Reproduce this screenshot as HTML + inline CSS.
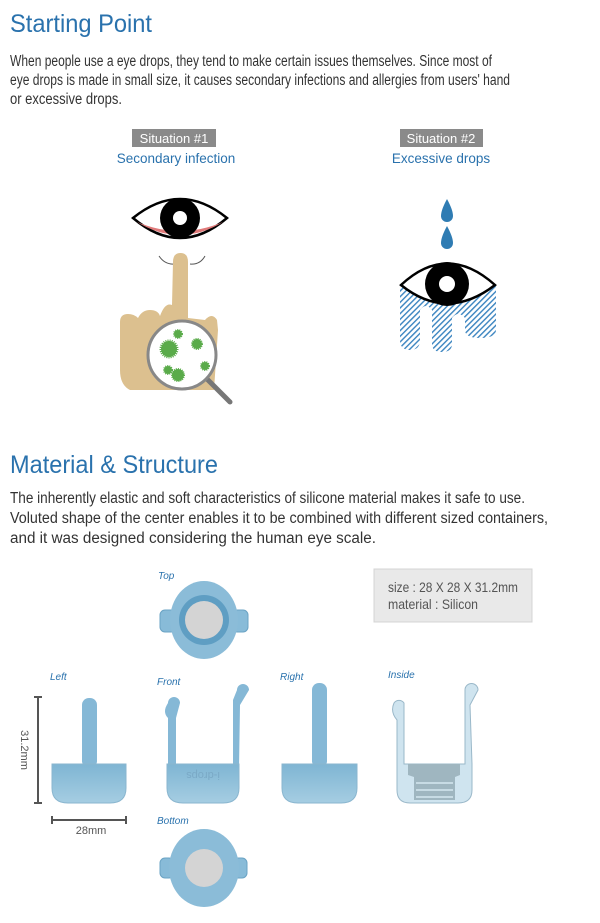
<!DOCTYPE html>
<html><head><meta charset="utf-8"><style>
html,body{margin:0;padding:0;background:#fff;width:600px;height:923px;overflow:hidden}
svg{display:block}
text{font-family:"Liberation Sans",sans-serif}
</style></head><body>
<svg width="600" height="923" viewBox="0 0 600 923" xmlns="http://www.w3.org/2000/svg">
<defs>
<pattern id="hatch" width="4" height="4" patternUnits="userSpaceOnUse" patternTransform="rotate(45)">
<rect width="4" height="4" fill="#fff"/><rect width="1.4" height="4" fill="#3a84c0"/>
</pattern>
<linearGradient id="bl" x1="0" y1="0" x2="0" y2="1"><stop offset="0" stop-color="#7fb5d3"/><stop offset="1" stop-color="#a5cde2"/></linearGradient>
</defs>
<!-- Section 1 -->
<text x="10" y="32" font-size="25" fill="#2a72ad" textLength="142" lengthAdjust="spacingAndGlyphs">Starting Point</text>
<g font-size="15.5" fill="#333">
<text x="10" y="66" textLength="482" lengthAdjust="spacingAndGlyphs">When people use a eye drops, they tend to make certain issues themselves. Since most of</text>
<text x="10" y="85" textLength="500" lengthAdjust="spacingAndGlyphs">eye drops is made in small size, it causes secondary infections and allergies from users' hand</text>
<text x="10" y="104" textLength="112" lengthAdjust="spacingAndGlyphs">or excessive drops.</text>
</g>
<rect x="132" y="129" width="84" height="18" fill="#8a8a8a"/>
<text x="174" y="143" font-size="13" fill="#fff" text-anchor="middle">Situation #1</text>
<text x="176" y="163" font-size="13.5" fill="#2a72ad" text-anchor="middle">Secondary infection</text>
<rect x="400" y="129" width="83" height="18" fill="#8a8a8a"/>
<text x="441" y="143" font-size="13" fill="#fff" text-anchor="middle">Situation #2</text>
<text x="441" y="163" font-size="13.5" fill="#2a72ad" text-anchor="middle">Excessive drops</text>

<!-- eye 1 -->
<path d="M133 218 Q180 180 227 218 Q180 258 133 218Z" fill="#fff" stroke="#000" stroke-width="2.5"/>
<path d="M137 222 Q180 248 223 222 Q180 240 137 222Z" fill="#e07a7a"/>
<circle cx="180" cy="218" r="20" fill="#000"/><circle cx="180" cy="218" r="7" fill="#fff"/>
<path d="M159 256 Q165 265 175 264 M190 264 Q200 265 205 256" stroke="#555" fill="none" stroke-width="1"/>
<!-- hand -->
<path d="M173 262 Q173 253 180.5 253 Q188 253 188 262 L188 318 L205 320 Q212 312 217 320 L218 330 L214 390 L130 390 Q120 385 120 370 L120 322 Q120 314 128 314 Q134 314 138 318 Q142 310 150 310 Q158 310 160 316 Q165 302 172 305Z" fill="#dcc08f"/>
<line x1="200" y1="372" x2="230" y2="402" stroke="#777" stroke-width="5" stroke-linecap="round"/>
<circle cx="182" cy="355" r="34" fill="#fff" stroke="#888" stroke-width="3"/>
<g fill="#5aab4a" stroke="#5aab4a" stroke-dasharray="1 1">
<circle cx="169" cy="349" r="8" stroke-width="3"/>
<circle cx="178" cy="334" r="4" stroke-width="2"/>
<circle cx="197" cy="344" r="5" stroke-width="2"/>
<circle cx="205" cy="366" r="4" stroke-width="2"/>
<circle cx="168" cy="370" r="4" stroke-width="2"/>
<circle cx="178" cy="375" r="6" stroke-width="2"/>
</g>
<!-- drops -->
<path d="M447 199 Q441 210 441 216 A6 6 0 0 0 453 216 Q453 210 447 199Z" fill="#2f7cb3"/>
<path d="M447 226 Q441 237 441 243 A6 6 0 0 0 453 243 Q453 237 447 226Z" fill="#2f7cb3"/>
<!-- eye 2 -->
<path d="M400 284 L400 340 Q400 350 410 350 Q420 350 420 340 L420 310 Q426 302 432 310 L432 344 Q432 352 442 352 Q452 352 452 344 L452 318 Q458 310 465 318 L465 330 Q465 338 480 338 Q496 338 496 330 L496 284Z" fill="url(#hatch)"/>
<path d="M401 285 Q447 242 495 285 Q447 322 401 285Z" fill="#fff" stroke="#000" stroke-width="2.5"/>
<circle cx="447" cy="284" r="22" fill="#000"/><circle cx="447" cy="284" r="8" fill="#fff"/>

<!-- Section 2 -->
<text x="10" y="473" font-size="25" fill="#2a72ad" textLength="208" lengthAdjust="spacingAndGlyphs">Material &amp; Structure</text>
<g font-size="15.5" fill="#333">
<text x="10" y="503" textLength="515" lengthAdjust="spacingAndGlyphs">The inherently elastic and soft characteristics of silicone material makes it safe to use.</text>
<text x="10" y="523" textLength="538" lengthAdjust="spacingAndGlyphs">Voluted shape of the center enables it to be combined with different sized containers,</text>
<text x="10" y="543" textLength="366" lengthAdjust="spacingAndGlyphs">and it was designed considering the human eye scale.</text>
</g>
<rect x="374" y="569" width="158" height="53" fill="#e9e9e9" stroke="#d4d4d4"/>
<text x="388" y="592" font-size="14" fill="#555" textLength="130" lengthAdjust="spacingAndGlyphs">size :  28 X 28 X 31.2mm</text>
<text x="388" y="609" font-size="14" fill="#555" textLength="90" lengthAdjust="spacingAndGlyphs">material : Silicon</text>

<g font-size="10" font-style="italic" fill="#2a72ad">
<text x="158" y="579">Top</text><text x="50" y="680">Left</text><text x="157" y="685">Front</text>
<text x="280" y="680">Right</text><text x="388" y="678">Inside</text><text x="157" y="824">Bottom</text>
</g>
<!-- top -->
<rect x="160" y="610" width="16" height="22" rx="5" fill="#88bbd8" stroke="#6aa3c4"/>
<rect x="232" y="610" width="16" height="22" rx="5" fill="#88bbd8" stroke="#6aa3c4"/>
<ellipse cx="204" cy="620" rx="34" ry="39" fill="#8bbcd8"/>
<circle cx="204" cy="620" r="25" fill="#5f9ec3"/>
<circle cx="204" cy="620" r="19" fill="#d4d4d4"/>
<!-- bottom -->
<rect x="160" y="858" width="14" height="20" rx="5" fill="#88bbd8" stroke="#6aa3c4"/>
<rect x="233" y="858" width="14" height="20" rx="5" fill="#88bbd8" stroke="#6aa3c4"/>
<ellipse cx="204" cy="868" rx="35" ry="39" fill="#8bbcd8"/>
<circle cx="204" cy="868" r="19" fill="#d4d4d4"/>
<!-- left -->
<rect x="82" y="698" width="15" height="70" rx="7" fill="#85b8d6"/>
<path d="M52 764 H126 V788 Q126 803 110 803 H68 Q52 803 52 788Z" fill="url(#bl)" stroke="#8ab6cf"/>
<!-- front -->
<path d="M168 703 A6 6 0 0 1 180 703 L176 718 L176 770 L168 770 L168 718 Q162 712 168 703Z" fill="#85b8d6"/>
<path d="M237 690 A6 6 0 0 1 249 690 L240 705 L239 770 L233 770 L233 700Z" fill="#85b8d6"/>
<path d="M167 764 H239 V788 Q239 803 223 803 H183 Q167 803 167 788Z" fill="url(#bl)" stroke="#8ab6cf"/>
<text x="203" y="780" font-size="11" fill="#7aa9c6" text-anchor="middle" transform="rotate(180 203 776)">i-drops</text>
<!-- right -->
<rect x="312" y="683" width="15" height="85" rx="7" fill="#85b8d6"/>
<path d="M282 764 H357 V788 Q357 803 341 803 H298 Q282 803 282 788Z" fill="url(#bl)" stroke="#8ab6cf"/>
<!-- inside -->
<path d="M394 703 A6 6 0 0 1 404 703 L404 764 L465 764 L465 690 A6 6 0 0 1 478 690 L470 705 L472 764 L472 790 Q472 803 458 803 H410 Q397 803 397 790 L397 720 Q390 712 394 703Z" fill="#cfe4ef" stroke="#9ab8c9"/>
<path d="M408 764 H460 V775 L455 777 V800 H414 V777 L408 775Z" fill="#9fb6c0"/>
<g stroke="#c7dbe4" stroke-width="2"><line x1="416" y1="783" x2="453" y2="783"/><line x1="416" y1="790" x2="453" y2="790"/><line x1="416" y1="797" x2="453" y2="797"/></g>
<!-- dims -->
<g stroke="#555" stroke-width="2"><line x1="38" y1="697" x2="38" y2="803"/><line x1="34" y1="697" x2="42" y2="697"/><line x1="34" y1="803" x2="42" y2="803"/>
<line x1="52" y1="820" x2="126" y2="820"/><line x1="52" y1="816" x2="52" y2="824"/><line x1="126" y1="816" x2="126" y2="824"/></g>
<text x="25" y="750" font-size="11" fill="#555" text-anchor="middle" transform="rotate(90 25 750)" dy="4">31.2mm</text>
<text x="91" y="834" font-size="11" fill="#555" text-anchor="middle">28mm</text>
</svg>
</body></html>
